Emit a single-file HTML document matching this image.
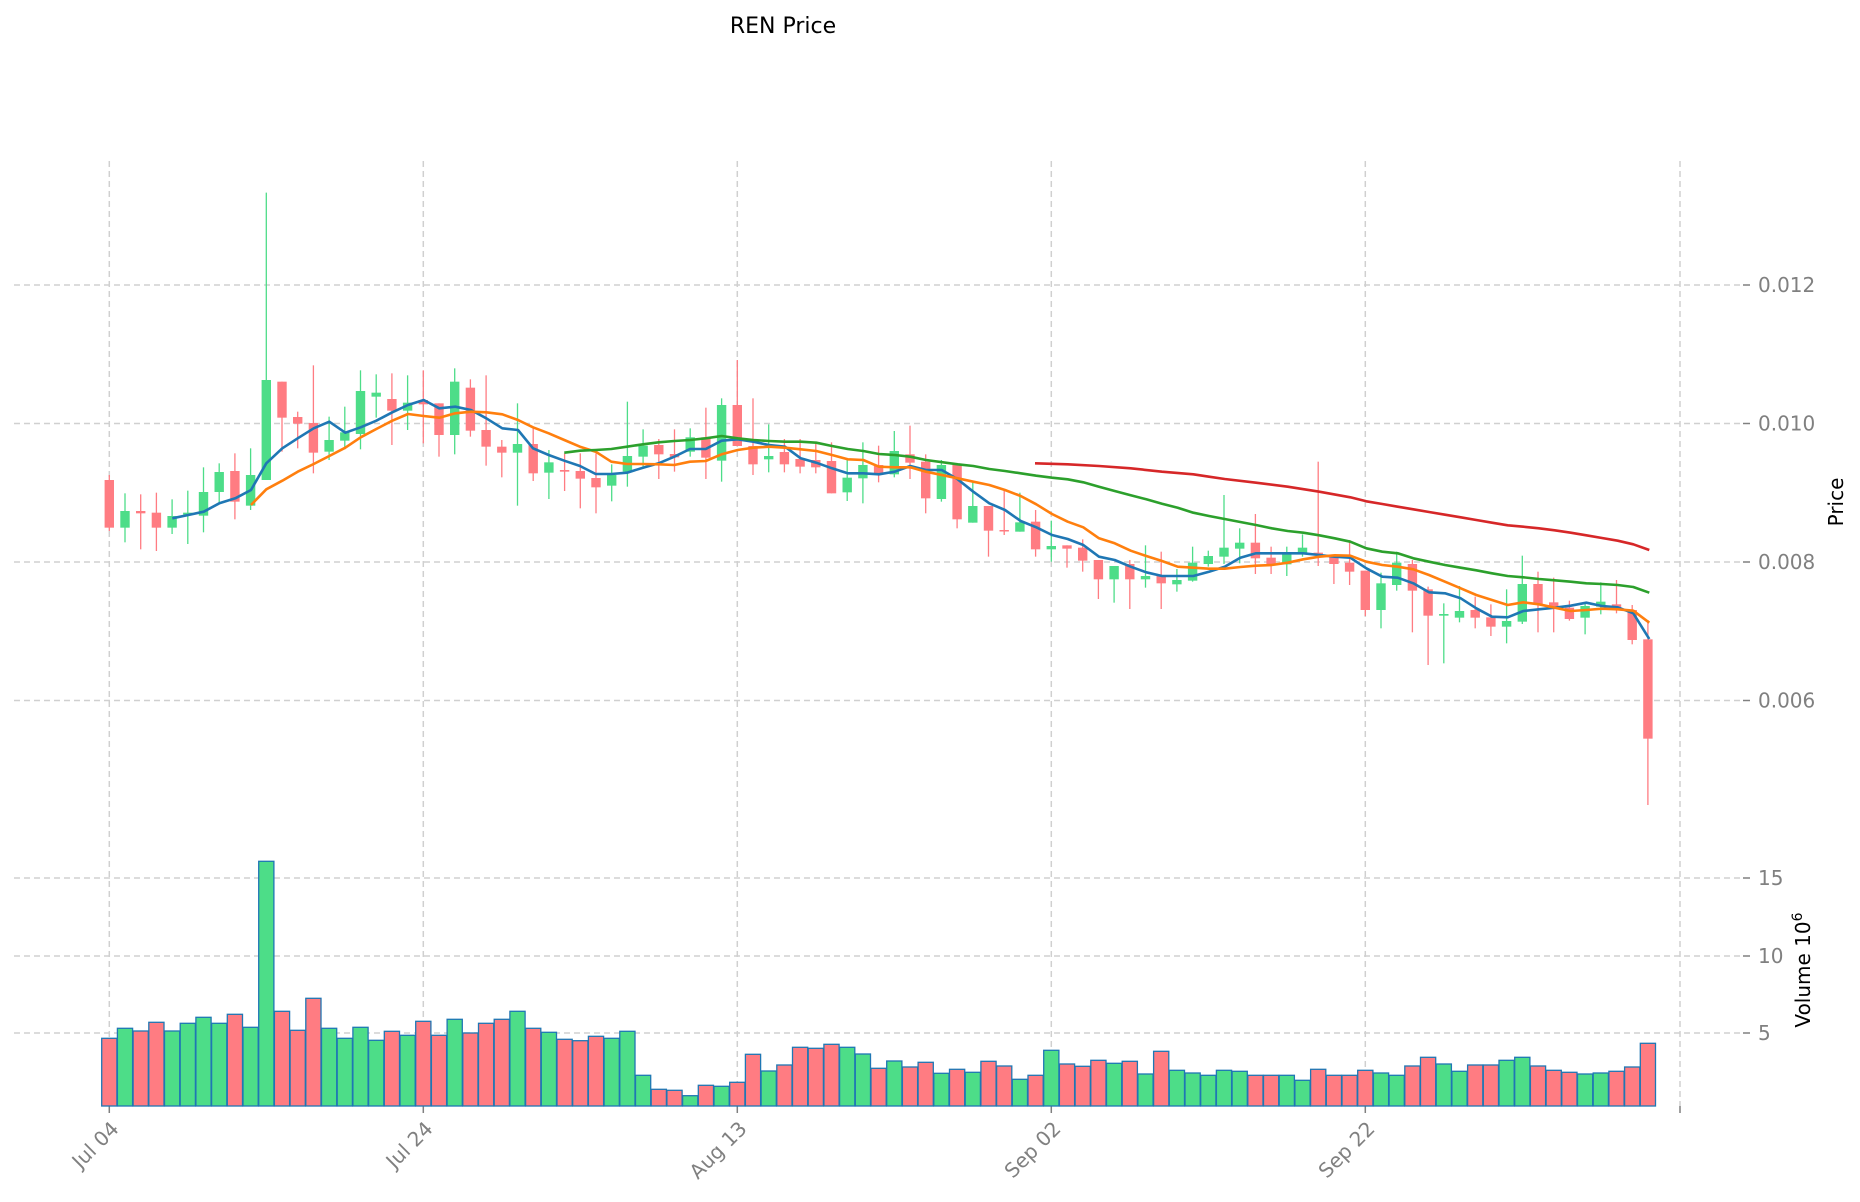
<!DOCTYPE html>
<html><head><meta charset="utf-8"><style>
html,body{margin:0;padding:0;background:#fff;}
svg{display:block;font-family:"DejaVu Sans","Liberation Sans",sans-serif;}
</style></head><body>
<svg id="s" width="1860" height="1202" viewBox="0 0 1860 1202" xmlns="http://www.w3.org/2000/svg">
<g id="grid" stroke="#d0d0d0" stroke-width="1.5" stroke-dasharray="6,4" fill="none">
<line x1="14" y1="285" x2="1743" y2="285"/>
<line x1="14" y1="423.5" x2="1743" y2="423.5"/>
<line x1="14" y1="562" x2="1743" y2="562"/>
<line x1="14" y1="700.5" x2="1743" y2="700.5"/>
<line x1="14" y1="878" x2="1743" y2="878"/>
<line x1="14" y1="956" x2="1743" y2="956"/>
<line x1="14" y1="1033" x2="1743" y2="1033"/>
<line x1="109.3" y1="161" x2="109.3" y2="1106"/>
<line x1="423.3" y1="161" x2="423.3" y2="1106"/>
<line x1="737.3" y1="161" x2="737.3" y2="1106"/>
<line x1="1051.3" y1="161" x2="1051.3" y2="1106"/>
<line x1="1365.3" y1="161" x2="1365.3" y2="1106"/>
<line x1="1680" y1="161" x2="1680" y2="1106"/>
</g>
<g stroke="#808080" stroke-width="1.5">
<line x1="1743" y1="285" x2="1750" y2="285"/>
<line x1="1743" y1="423.5" x2="1750" y2="423.5"/>
<line x1="1743" y1="562" x2="1750" y2="562"/>
<line x1="1743" y1="700.5" x2="1750" y2="700.5"/>
<line x1="1743" y1="878" x2="1750" y2="878"/>
<line x1="1743" y1="956" x2="1750" y2="956"/>
<line x1="1743" y1="1033" x2="1750" y2="1033"/>
<line x1="109.3" y1="1106" x2="109.3" y2="1113"/>
<line x1="423.3" y1="1106" x2="423.3" y2="1113"/>
<line x1="737.3" y1="1106" x2="737.3" y2="1113"/>
<line x1="1051.3" y1="1106" x2="1051.3" y2="1113"/>
<line x1="1365.3" y1="1106" x2="1365.3" y2="1113"/>
<line x1="1680" y1="1106" x2="1680" y2="1113"/>
</g>
<g id="plot"></g>
<g fill="#808080" font-size="20">
<text x="1758" y="292">0.012</text>
<text x="1758" y="430.5">0.010</text>
<text x="1758" y="569">0.008</text>
<text x="1758" y="707.5">0.006</text>
<text x="1758" y="885">15</text>
<text x="1758" y="963">10</text>
<text x="1758" y="1040">5</text>
<g text-anchor="end">
<text transform="translate(120,1130) rotate(-45)">Jul 04</text>
<text transform="translate(434,1130) rotate(-45)">Jul 24</text>
<text transform="translate(748,1130) rotate(-45)">Aug 13</text>
<text transform="translate(1062,1130) rotate(-45)">Sep 02</text>
<text transform="translate(1376,1130) rotate(-45)">Sep 22</text>
</g>
</g>
<text x="783" y="33" font-size="22" text-anchor="middle" fill="#000">REN Price</text>
<text transform="translate(1843,502) rotate(-90)" font-size="20" text-anchor="middle" fill="#000">Price</text>
<text transform="translate(1810,970) rotate(-90)" font-size="20" text-anchor="middle" fill="#000">Volume  10<tspan font-size="14" dy="-8">6</tspan></text>
</svg>
<script>
var NS="http://www.w3.org/2000/svg",P=document.getElementById("plot");
function el(t,a){var e=document.createElementNS(NS,t);for(var k in a)e.setAttribute(k,a[k]);P.appendChild(e);return e;}
function cx(i){return 109.3+15.7*i;}
var G="#4ddd88",R="#ff7c82";
// volumes (orig y top)
var vt=[1038.3,1028.3,1031,1022.3,1031,1023.3,1017.3,1023.3,1014.3,1027.3,861.3,1011.3,1030.3,998.3,1028.3,1038.3,1027.3,1040.3,1031.3,1035.3,1021.3,1035.3,1019.3,1033,1023.3,1019.3,1011.3,1028.3,1032.3,1039.3,1040.7,1036.3,1038.3,1031.3,1075.3,1089.3,1090.3,1095.7,1085.3,1086.3,1082.3,1054.3,1071,1065,1047.3,1048.3,1044.3,1047.3,1054,1068.3,1061,1067,1062.3,1073.3,1069.3,1072.3,1061.3,1066,1079.3,1075.3,1050.3,1064,1066.3,1060.3,1063.3,1061.3,1074,1051.3,1070.3,1073,1075.3,1070.3,1071.3,1075.3,1075.3,1075.3,1080.3,1069.3,1075.3,1075.3,1070.3,1073,1075.3,1066,1057.3,1064,1071.3,1065,1065,1060.3,1057.3,1066,1070.3,1072.3,1074,1073,1071.3,1067,1043.3];
// candles: [bodyTop,bodyBot,wickTop,wickBot,color] in zoom coords
var A=[[900,1043,885,1053,R],[993,1043,940,1087,G],[993,1000,943,1108,R],[998,1043,938,1113,R],[1008,1043,958,1062,G],[998,1004,932,1092,G],[936,1007,862,1057,G],[876,936,850,968,G],[873,965,820,1018,R],[885,977,805,990,G],[600,900,38,900,G],[605,713,605,815,R],[711,731,695,805,R],[729,818,556,880,R],[780,815,710,840,G],[757,782,680,808,G],[633,762,571,808,G],[638,650,583,713,G],[657,692,580,795,R],[668,692,586,750,G],[660,673,571,790,R],[670,765,670,830,R],[605,765,565,823,G],[623,752,598,770,R],[750,800,586,857,R],[800,818,780,892,R]];
var B=[[312,338,190,497,G],[312,400,265,423,R],[367,398,330,477,G],[390,395,340,453,R],[393,416,340,505,R],[414,442,340,520,R],[405,437,373,484,G],[348,395,185,440,G],[317,350,268,380,G],[315,343,297,417,R],[342,352,268,395,R],[292,335,265,350,G],[292,353,203,417,R],[195,362,175,425,G],[195,318,60,318,R],[318,373,175,405,R],[348,358,253,397,G],[336,373,297,397,R],[357,380,297,400,R],[360,382,307,400,R],[363,460,307,460,R],[413,457,360,483,G],[375,415,307,490,G],[375,400,317,427,R],[333,403,273,412,G],[343,368,257,417,R],[365,475,343,520,R]];
var C=[[135,237,120,245,G],[135,298,130,325,R],[258,308,185,308,G],[258,332,258,410,R],[330,334,210,345,R],[307,335,218,335,G],[305,388,270,410,R],[378,388,302,425,G],[376,386,376,443,R],[383,422,358,455,R],[420,478,420,537,R],[438,478,438,548,G],[432,478,420,567,R],[468,478,376,503,G],[465,490,395,567,R],[480,493,447,515,G],[428,482,380,485,G],[408,432,392,440,G],[383,410,225,432,G],[368,386,325,430,G],[368,415,282,462,R],[413,435,380,462,R],[402,433,380,468,G],[383,400,343,410,G],[398,406,125,438,R],[405,432,405,492,R],[428,455,360,495,R]];
var D=[[272,390,272,408,R],[310,390,278,445,G],[248,315,215,332,G],[252,332,240,457,R],[328,407,320,555,R],[402,407,370,550,G],[393,413,318,427,G],[390,413,350,445,R],[412,440,373,468,R],[423,440,328,490,G],[312,425,227,432,G],[312,375,275,457,R],[367,383,293,457,R],[383,417,362,422,R],[378,413,368,463,G],[365,380,307,403,G],[373,388,300,400,R],[390,480,375,493,R],[478,776,420,975,R]];
var cs=[];
A.forEach(function(c,k){cs.push([k,c,180]);});
B.forEach(function(c,k){cs.push([26+k,c,340]);});
C.forEach(function(c,k){cs.push([53+k,c,420]);});
D.forEach(function(c,k){cs.push([80+k,c,480]);});
cs.forEach(function(q){
  var i=q[0],c=q[1],o=q[2],x=cx(i);
  el("rect",{x:x-7.6,y:vt[i],width:15.2,height:1106-vt[i],fill:c[4],stroke:"#1f77b4","stroke-width":1.3});
  el("line",{x1:x,x2:x,y1:o+c[2]/3,y2:o+c[3]/3,stroke:c[4],"stroke-width":1.3});
  var t=o+c[0]/3,b=o+c[1]/3;if(b-t<1.5)b=t+1.5;
  el("rect",{x:x-4.7,y:t,width:9.4,height:b-t,fill:c[4]});
});
function line(segs,col){
  var pts=[];
  segs.forEach(function(s){var ox=s[0],oy=s[1],a=s[2];for(var j=0;j<a.length;j+=2)pts.push((ox+a[j]/3).toFixed(1)+","+(oy+a[j+1]/3).toFixed(1));});
  el("polyline",{points:pts.join(" "),fill:"none",stroke:col,"stroke-width":2.6,"stroke-linejoin":"round"});
}
line([[95,180,[232,1015,280,1005,326,995,373,970,421,955,468,930,514,850,562,805,608,775,656,745,703,725,751,758,797,742,844,722,892,697,939,675,986,660,1033,685,1081,680,1128,690,1174,715,1222,745,1269,750]],
 [515,340,[54,325,101,345,148,362,195,378,242,402,289,402,336,398,384,383,431,370,478,350,525,327,572,327,620,302,668,298,715,305,762,315,810,320,857,355,904,368,951,385,998,400,1045,400,1092,403,1139,395,1186,378,1233,390,1280,390]],
 [935,420,[68,178,115,215,163,250,210,270,257,303,304,322,351,345,398,357,445,375,492,410,539,420,587,440,634,457,681,468,728,468,775,468,822,455,869,440,916,413,963,400,1010,400,1058,400,1105,400,1153,405,1199,410,1246,413]],
 [1355,480,[34,265,82,290,128,293,175,310,222,337,270,340,317,355,364,385,411,410,458,412,505,393,552,388,599,383,647,377,694,368,741,378,788,382,835,400,883,477]]],"#1f77b4");
line([[95,180,[468,975,514,928,562,902,608,875,656,852,703,828,751,803,797,772,844,747,892,722,939,702,986,708,1033,713,1081,700,1128,695,1174,697,1222,703,1269,720]],
 [515,340,[54,262,101,280,148,300,195,320,242,335,289,365,336,372,384,372,431,373,478,375,525,365,572,363,620,343,668,330,715,323,762,320,810,323,857,328,904,333,951,345,998,358,1045,360,1092,380,1139,382,1186,382,1233,395]],
 [935,420,[68,175,115,185,163,195,210,210,257,228,304,253,351,282,398,305,445,322,492,355,539,370,587,392,634,408,681,423,728,440,775,443,822,446,869,446,916,441,963,437,1010,435,1058,428,1105,418,1153,410,1199,406,1246,407]],
 [1355,480,[34,245,82,255,128,260,175,268,222,285,270,305,317,325,364,345,411,360,458,375,505,367,552,373,599,383,647,393,694,390,741,386,788,388,835,392,883,428]]],"#ff7f0e");
line([[515,340,[148,338,195,332,242,330,289,327,336,320,384,313,431,307,478,303,525,300,572,295,620,288,668,295,715,300,762,303,810,305,857,305,904,308,951,318,998,327,1045,333,1092,342,1139,345,1186,350,1233,360]],
 [935,420,[68,133,115,138,163,147,210,153,257,160,304,167,351,173,398,178,445,187,492,200,539,213,587,226,634,238,681,251,728,263,775,278,822,288,869,297,916,306,963,315,1010,325,1058,333,1105,338,1153,346,1199,355,1246,365]],
 [1355,480,[34,205,82,215,128,220,175,235,222,245,270,255,317,263,364,271,411,280,458,288,505,292,552,297,599,301,647,305,694,310,741,312,788,315,835,321,883,338]]],"#2ca02c");
line([[935,420,[300,130,398,133,492,138,587,145,681,155,775,163,822,170,869,177,963,188,1058,200,1153,215,1246,232]],
 [1355,480,[34,64,82,72,128,80,175,88,222,96,270,104,317,112,364,120,411,128,458,136,505,140,552,145,599,151,647,158,694,166,741,174,788,182,835,193,883,210]]],"#d62728");
</script>
</body></html>
